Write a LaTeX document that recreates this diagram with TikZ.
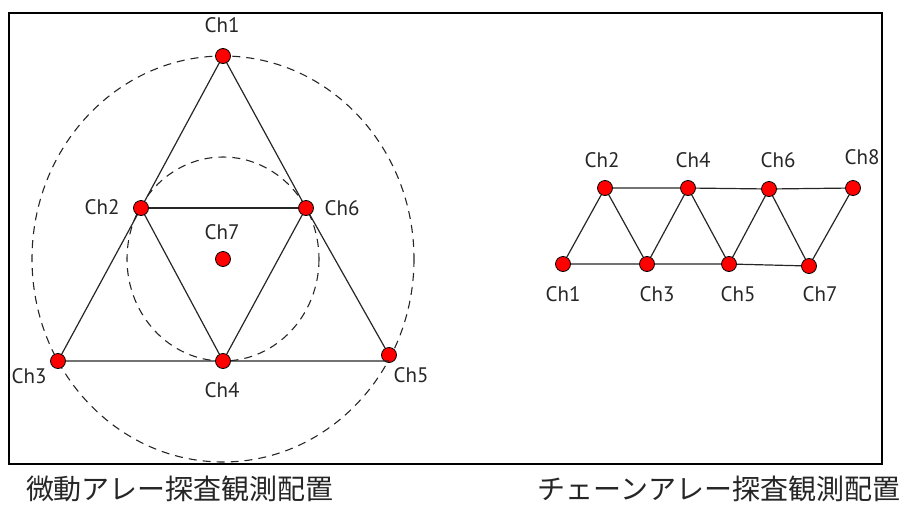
\documentclass[tikz,border=0pt]{standalone}
\usepackage{fontspec}
\setmainfont{PT Sans}
\newfontfamily\cjk{Noto Sans CJK JP}
\begin{document}
\begin{tikzpicture}[x=1pt,y=-1pt,
  ch/.style={circle, fill=red, draw=black, line width=0.8pt, minimum size=15pt, inner sep=0pt},
  lbl/.style={font=\fontsize{21}{21}\selectfont, inner sep=0pt, text=black!85},
  edge/.style={draw=black!85, line width=1.2pt},
  ring/.style={draw=black!85, line width=1.1pt, dash pattern=on 8pt off 6pt},
  captxt/.style={font=\cjk\fontsize{28}{28}\selectfont, inner sep=0pt, text=black!85}]
\useasboundingbox (0,0) rectangle (903,504);
\node[draw=black, line width=1.8pt, minimum width=873pt, minimum height=451pt, inner sep=0pt, anchor=north west] (frame) at (8,12) {};
% left array
\coordinate (c) at (223,259);
\draw[ring] (c) ellipse [x radius=191, y radius=203];
\draw[ring] (c) ellipse [x radius=96, y radius=102];
\node[ch] (a1) at (223,56) {};
\node[ch] (a2) at (141,208) {};
\node[ch] (a6) at (306,208) {};
\node[ch] (a7) at (223,259) {};
\node[ch] (a3) at (58,361) {};
\node[ch] (a4) at (223,361) {};
\node[ch] (a5) at (389,355) {};
\draw[edge] (a1) -- (a2) -- (a3) -- (a4) -- (a5 |- a4);
\draw[edge] (a1) -- (a6) -- (a5);
\draw[edge] (a2) -- (a6);
\draw[edge] (a2) -- (a4) -- (a6);
\node[lbl] (la1) at (222,25) {Ch1};
\node[lbl] (la2) at (102,207) {Ch2};
\node[lbl] (la6) at (342,208) {Ch6};
\node[lbl] (la7) at (222,232) {Ch7};
\node[lbl] (la3) at (29,376) {Ch3};
\node[lbl] (la4) at (222,390) {Ch4};
\node[lbl] (la5) at (411,375) {Ch5};
% right array
\node[ch] (b2) at (605,188) {};
\node[ch] (b4) at (688,188) {};
\node[ch] (b6) at (769,189) {};
\node[ch] (b8) at (853,188) {};
\node[ch] (b1) at (563,264) {};
\node[ch] (b3) at (647,264) {};
\node[ch] (b5) at (729,264) {};
\node[ch] (b7) at (809,266) {};
\draw[edge] (b2) -- (b4) -- (b6) -- (b8);
\draw[edge] (b1) -- (b3) -- (b5) -- (b7);
\draw[edge] (b1) -- (b2) -- (b3) -- (b4) -- (b5) -- (b6) -- (b7) -- (b8);
\node[lbl] (lb2) at (602,160) {Ch2};
\node[lbl] (lb4) at (693,160) {Ch4};
\node[lbl] (lb6) at (778,160) {Ch6};
\node[lbl] (lb8) at (862,157) {Ch8};
\node[lbl] (lb1) at (563,294) {Ch1};
\node[lbl] (lb3) at (657,294) {Ch3};
\node[lbl] (lb5) at (738,294) {Ch5};
\node[lbl] (lb7) at (820,294) {Ch7};
% captions
\node[captxt] (cap1) at (180,489) {微動アレー探査観測配置};
\node[captxt] (cap2) at (719,489) {チェーンアレー探査観測配置};
\end{tikzpicture}
\end{document}
